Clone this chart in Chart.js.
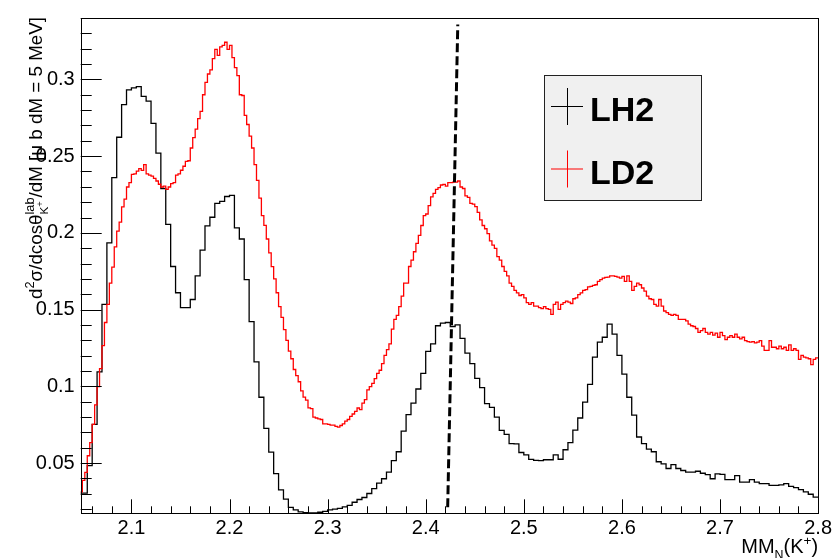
<!DOCTYPE html>
<html><head><meta charset="utf-8">
<script src="https://cdn.jsdelivr.net/npm/chart.js@4/dist/chart.umd.min.js"></script>
<style>html,body{margin:0;padding:0;background:#fff}</style>
</head><body>
<canvas id="c" width="835" height="558"></canvas>
<script>
// ---------------- data ----------------
const seriesNames = ['LH2', 'LD2'];
const lh2Start = 2.045, lh2Width = 0.005;   // bin low edge of first bin, bin width (GeV)
const lh2Values = [0.0305,
 0.0305,0.0484,0.0752,0.1095,0.1534,0.1935,0.2360,0.2623,0.2835,0.2932,
 0.2945,0.2953,0.2889,0.2859,0.2713,0.2520,0.2289,0.2055,0.1781,0.1610,
 0.1513,0.1513,0.1566,0.1720,0.1888,0.2046,0.2102,0.2192,0.2205,0.2237,
 0.2245,0.2033,0.1960,0.1695,0.1422,0.1159,0.0929,0.0726,0.0572,0.0432,
 0.0325,0.0265,0.0212,0.0195,0.0182,0.0178,0.0176,0.0176,0.0180,0.0185,
 0.0195,0.0200,0.0205,0.0215,0.0225,0.0245,0.0263,0.0276,0.0302,0.0334,
 0.0370,0.0398,0.0441,0.0516,0.0574,0.0709,0.0816,0.0891,0.0983,0.1084,
 0.1228,0.1277,0.1395,0.1412,0.1416,0.1390,0.1401,0.1313,0.1217,0.1148,
 0.1052,0.0992,0.0887,0.0863,0.0800,0.0713,0.0687,0.0627,0.0625,0.0569,
 0.0554,0.0524,0.0518,0.0516,0.0522,0.0522,0.0554,0.0525,0.0587,0.0633,
 0.0715,0.0794,0.0897,0.1013,0.1191,0.1288,0.1320,0.1405,0.1341,0.1202,
 0.1080,0.0929,0.0812,0.0670,0.0627,0.0591,0.0574,0.0509,0.0495,0.0465,
 0.0490,0.0465,0.0452,0.0441,0.0441,0.0447,0.0434,0.0425,0.0398,0.0430,
 0.0426,0.0392,0.0392,0.0419,0.0376,0.0376,0.0392,0.0376,0.0366,0.0366,
 0.0355,0.0355,0.0358,0.0366,0.0349,0.0340,0.0327,0.0312,0.0297,0.0278];

const ld2Start = 2.0475, ld2Width = 0.0025;
const ld2Values = [
 0.0312,0.0387,0.0440,0.0548,0.0633,0.0752,0.0880,0.0998,0.1116,0.1266,
 0.1416,0.1534,0.1673,0.1777,0.1909,0.2012,0.2070,0.2170,0.2220,0.2299,
 0.2327,0.2381,0.2385,0.2402,0.2419,0.2407,0.2445,0.2385,0.2376,0.2370,
 0.2355,0.2338,0.2317,0.2299,0.2305,0.2284,0.2299,0.2321,0.2327,0.2376,
 0.2385,0.2408,0.2434,0.2466,0.2470,0.2553,0.2621,0.2676,0.2745,0.2792,
 0.2900,0.2981,0.3035,0.3062,0.3135,0.3196,0.3157,0.3212,0.3221,0.3242,
 0.3196,0.3221,0.3142,0.3077,0.3024,0.2900,0.2895,0.2765,0.2706,0.2631,
 0.2553,0.2445,0.2342,0.2227,0.2113,0.2049,0.1960,0.1870,0.1780,0.1700,
 0.1610,0.1520,0.1450,0.1370,0.1300,0.1230,0.1180,0.1110,0.1070,0.1030,
 0.0970,0.0930,0.0910,0.0860,0.0855,0.0800,0.0794,0.0788,0.0784,0.0756,
 0.0756,0.0752,0.0747,0.0747,0.0739,0.0734,0.0745,0.0756,0.0773,0.0784,
 0.0805,0.0820,0.0837,0.0859,0.0848,0.0891,0.0913,0.0977,0.0998,0.1019,
 0.1051,0.1084,0.1105,0.1148,0.1202,0.1240,0.1277,0.1373,0.1437,0.1463,
 0.1519,0.1588,0.1673,0.1673,0.1781,0.1823,0.1877,0.1931,0.1984,0.2048,
 0.2113,0.2123,0.2177,0.2235,0.2257,0.2284,0.2295,0.2312,0.2316,0.2305,
 0.2327,0.2327,0.2331,0.2331,0.2338,0.2299,0.2289,0.2241,0.2231,0.2192,
 0.2188,0.2171,0.2134,0.2085,0.2048,0.2027,0.1995,0.1948,0.1920,0.1899,
 0.1845,0.1823,0.1781,0.1749,0.1720,0.1673,0.1652,0.1626,0.1609,0.1592,
 0.1598,0.1577,0.1545,0.1534,0.1545,0.1523,0.1523,0.1513,0.1506,0.1519,
 0.1506,0.1502,0.1469,0.1534,0.1549,0.1502,0.1534,0.1545,0.1556,0.1549,
 0.1540,0.1571,0.1577,0.1598,0.1609,0.1626,0.1630,0.1648,0.1652,0.1658,
 0.1662,0.1684,0.1695,0.1705,0.1710,0.1712,0.1720,0.1720,0.1716,0.1712,
 0.1705,0.1716,0.1684,0.1720,0.1684,0.1626,0.1652,0.1673,0.1662,0.1641,
 0.1620,0.1588,0.1571,0.1566,0.1534,0.1523,0.1566,0.1523,0.1491,0.1480,
 0.1469,0.1463,0.1469,0.1463,0.1437,0.1437,0.1437,0.1427,0.1405,0.1395,
 0.1390,0.1377,0.1352,0.1363,0.1377,0.1352,0.1341,0.1352,0.1334,0.1347,
 0.1320,0.1352,0.1330,0.1305,0.1320,0.1330,0.1320,0.1341,0.1320,0.1309,
 0.1320,0.1298,0.1292,0.1288,0.1292,0.1283,0.1288,0.1298,0.1262,0.1234,
 0.1234,0.1298,0.1255,0.1255,0.1245,0.1262,0.1245,0.1255,0.1234,0.1270,
 0.1234,0.1245,0.1234,0.1176,0.1202,0.1191,0.1185,0.1180,0.1142,0.1176,
 0.1185];

const markerLineX = [2.4224, 2.4327];
const markerLineY = [0.0213, 0.3358];

const xRange = [2.0483, 2.8];
const yRange = [0.0173, 0.34];
const xTickValues = [2.1, 2.2, 2.3, 2.4, 2.5, 2.6, 2.7, 2.8];
const yTickValues = [0.05, 0.1, 0.15, 0.2, 0.25, 0.3];

// ---------------- helpers ----------------
function histPoints(start, width, values) {
  const pts = values.map((v, i) => ({ x: +(start + i * width).toFixed(5), y: v }));
  pts.push({ x: +(start + values.length * width).toFixed(5), y: values[values.length - 1] });
  return pts;
}
const FAM = '"Liberation Sans", Arial, Helvetica, sans-serif';
const LABEL_SIZE = 20;

function measureRuns(ctx, runs, f) {
  let w = 0;
  for (const r of runs) {
    if (r.stack) {
      w += Math.max(...r.stack.map(s => measureRuns(ctx, s, f)));
    } else {
      ctx.font = (r.bold ? 'bold ' : '') + (f * (r.s || 1)) + 'px ' + FAM;
      w += ctx.measureText(r.t).width;
    }
  }
  return w;
}
function drawRuns(ctx, runs, x, y, f) {
  for (const r of runs) {
    if (r.stack) {
      const ws = r.stack.map(s => measureRuns(ctx, s, f));
      r.stack.forEach(s => drawRuns(ctx, s, x, y, f));
      x += Math.max(...ws);
    } else {
      ctx.font = (r.bold ? 'bold ' : '') + (f * (r.s || 1)) + 'px ' + FAM;
      ctx.fillText(r.t, x, y + (r.dy || 0) * f);
      x += ctx.measureText(r.t).width;
    }
  }
  return x;
}

const yTitleRuns = [
  { t: 'd' }, { t: '2', s: 0.68, dy: -0.42 }, { t: 'σ/dcosθ' },
  { stack: [[{ t: 'lab', s: 0.68, dy: -0.45 }], [{ t: 'K', s: 0.62, dy: 0.32 }, { t: '+', s: 0.5, dy: 0.05 }]] },
  { t: '/dM [' }, { t: 'μ' }, { t: ' b dM = 5 MeV]' }
];
const xTitleRuns = [
  { t: 'MM' }, { t: 'N', s: 0.62, dy: 0.3 }, { t: '(K' }, { t: '+', s: 0.68, dy: -0.42 }, { t: ')' }
];

// frame + ROOT-style inner ticks
const framePlugin = {
  id: 'frame',
  afterDatasetsDraw(chart) {
    const { ctx, chartArea: a, scales: { x, y } } = chart;
    ctx.save();
    ctx.strokeStyle = '#000';
    ctx.lineWidth = 1;
    ctx.beginPath();
    for (let i = 1; i <= 34; i++) {
      const v = i / 100;
      if (v < yRange[0] || v > yRange[1]) continue;
      const py = Math.round(y.getPixelForValue(v)) + 0.5;
      const major = (i % 5 === 0);
      ctx.moveTo(a.left, py);
      ctx.lineTo(a.left + (major ? 21 : 11), py);
    }
    for (let i = 100; i <= 140; i++) {
      const v = i / 50;
      if (v < xRange[0] || v > xRange[1] + 1e-9) continue;
      const px = Math.round(x.getPixelForValue(v)) + 0.5;
      const major = (i % 5 === 0);
      ctx.moveTo(px, a.bottom);
      ctx.lineTo(px, a.bottom - (major ? 14 : 7));
    }
    ctx.stroke();
    ctx.strokeRect(Math.round(a.left) + 0.5, Math.round(a.top) + 0.5,
                   Math.round(a.right - a.left), Math.round(a.bottom - a.top));
    ctx.restore();
  },
  afterDraw(chart) {
    const { ctx, chartArea: a } = chart;
    ctx.save();
    ctx.fillStyle = '#000';
    ctx.textBaseline = 'alphabetic';
    const f = 18.8;
    const wy = measureRuns(ctx, yTitleRuns, f);
    ctx.translate(42, a.top - 1 + wy);
    ctx.rotate(-Math.PI / 2);
    drawRuns(ctx, yTitleRuns, 0, 0, f);
    ctx.restore();
    ctx.save();
    ctx.fillStyle = '#000';
    const wx = measureRuns(ctx, xTitleRuns, LABEL_SIZE);
    drawRuns(ctx, xTitleRuns, a.right - wx, 553, LABEL_SIZE);
    ctx.restore();
    ctx.save();
    const bx = 544, by = 75, bw = 157, bh = 125;
    ctx.fillStyle = '#f0f0f0';
    ctx.fillRect(bx, by, bw, bh);
    ctx.strokeStyle = '#222';
    ctx.lineWidth = 1;
    ctx.strokeRect(bx + 0.5, by + 0.5, bw, bh);
    const entries = [
      { name: seriesNames[0], color: '#000000', cy: 106 },
      { name: seriesNames[1], color: '#ff0000', cy: 168.5 }
    ];
    for (const e of entries) {
      ctx.strokeStyle = e.color;
      ctx.lineWidth = 1;
      ctx.beginPath();
      ctx.moveTo(551, e.cy + 0.5); ctx.lineTo(583, e.cy + 0.5);
      ctx.moveTo(567.5, e.cy - 18); ctx.lineTo(567.5, e.cy + 19);
      ctx.stroke();
      ctx.fillStyle = '#000';
      ctx.font = 'bold 34px ' + FAM;
      ctx.fillText(e.name, 590, e.cy + 15);
    }
    ctx.restore();
  }
};

const chart = new Chart(document.getElementById('c'), {
  type: 'line',
  data: {
    datasets: [
      { label: seriesNames[0], data: histPoints(lh2Start, lh2Width, lh2Values),
        borderColor: '#000000', borderWidth: 1.3, stepped: 'before', pointRadius: 0, fill: false, order: 2 },
      { label: seriesNames[1], data: histPoints(ld2Start, ld2Width, ld2Values),
        borderColor: '#ff0000', borderWidth: 1.3, stepped: 'before', pointRadius: 0, fill: false, order: 1 },
      { label: 'marker', data: markerLineX.map((x, i) => ({ x, y: markerLineY[i] })),
        borderColor: '#000000', borderWidth: 3, borderDash: [9, 4], pointRadius: 0, fill: false, order: 0 }
    ]
  },
  options: {
    responsive: false, animation: false, devicePixelRatio: 1,
    layout: { padding: { left: 0, right: 13.3, top: 12, bottom: 0 } },
    plugins: { legend: { display: false }, tooltip: { enabled: false } },
    scales: {
      x: {
        type: 'linear', min: xRange[0], max: xRange[1],
        afterBuildTicks: ax => { ax.ticks = xTickValues.map(v => ({ value: v })); },
        afterFit: s => { s.height = 558 - 513.3; },
        grid: { display: false, drawTicks: false }, border: { display: false },
        ticks: { autoSkip: false, maxRotation: 0, padding: 3, color: '#000',
                 font: { family: FAM, size: LABEL_SIZE }, callback: v => v.toFixed(1) }
      },
      y: {
        type: 'linear', min: yRange[0], max: yRange[1],
        afterBuildTicks: ax => { ax.ticks = yTickValues.map(v => ({ value: v })); },
        afterFit: s => { s.width = 80.7; },
        grid: { display: false, drawTicks: false }, border: { display: false },
        ticks: { autoSkip: false, padding: 6, color: '#000',
                 font: { family: FAM, size: LABEL_SIZE }, callback: v => String(+v.toFixed(2)) }
      }
    }
  },
  plugins: [framePlugin]
});
</script>
</body></html>
